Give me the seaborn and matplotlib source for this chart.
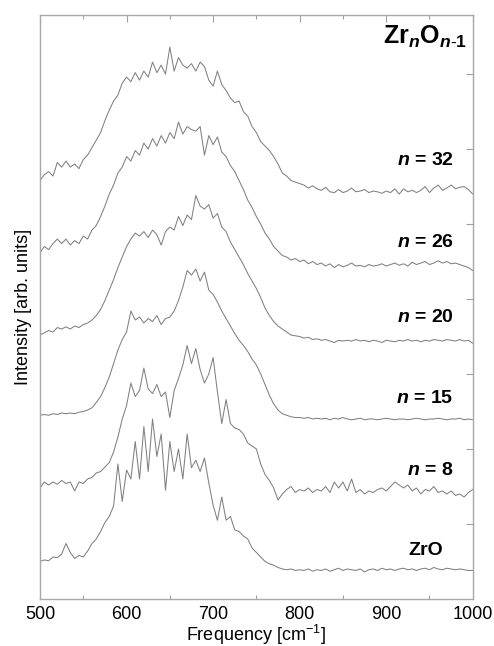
import numpy as np
import pandas as pd
import matplotlib
matplotlib.use("Agg")
import matplotlib.pyplot as plt
from matplotlib.ticker import MultipleLocator
import seaborn as sns

# ---- data (intensities with vertical offsets, 5 cm^-1 steps) ----
n32 = [5.58, 5.66, 5.70, 5.64, 5.82, 5.76, 5.84, 5.76, 5.80, 5.74, 5.86, 5.92, 6.02, 6.12, 6.22, 6.38, 6.52, 6.64, 6.72, 6.88,
       6.96, 6.90, 7.02, 6.92, 7.04, 6.96, 7.16, 7.02, 7.12, 7.00, 7.36, 7.04, 7.22, 7.12, 7.08, 7.14, 7.04, 7.16, 7.10, 6.92,
       6.84, 7.04, 6.86, 6.78, 6.68, 6.62, 6.64, 6.50, 6.44, 6.30, 6.22, 6.10, 6.04, 5.98, 5.90, 5.80, 5.68, 5.64, 5.58, 5.56,
       5.54, 5.52, 5.48, 5.51, 5.47, 5.45, 5.49, 5.43, 5.42, 5.46, 5.42, 5.44, 5.48, 5.43, 5.44, 5.46, 5.42, 5.44, 5.43, 5.41,
       5.44, 5.42, 5.47, 5.40, 5.47, 5.43, 5.45, 5.42, 5.45, 5.50, 5.42, 5.48, 5.52, 5.45, 5.48, 5.52, 5.47, 5.49, 5.50, 5.46,
       5.40]
n26 = [4.62, 4.70, 4.66, 4.74, 4.80, 4.74, 4.80, 4.72, 4.78, 4.74, 4.84, 4.80, 4.92, 4.98, 5.10, 5.24, 5.40, 5.52, 5.68, 5.76,
       5.90, 5.84, 5.98, 5.92, 6.08, 6.00, 6.14, 6.04, 6.18, 6.08, 6.22, 6.14, 6.36, 6.20, 6.30, 6.26, 6.24, 6.30, 5.92, 6.18,
       6.06, 6.16, 5.96, 5.90, 5.78, 5.70, 5.58, 5.46, 5.32, 5.22, 5.10, 5.00, 4.88, 4.80, 4.70, 4.64, 4.58, 4.56, 4.52, 4.54,
       4.50, 4.52, 4.47, 4.50, 4.46, 4.48, 4.44, 4.47, 4.42, 4.46, 4.43, 4.45, 4.48, 4.44, 4.45, 4.43, 4.46, 4.44, 4.45, 4.47,
       4.44, 4.46, 4.48, 4.45, 4.47, 4.44, 4.49, 4.46, 4.48, 4.50, 4.46, 4.48, 4.51, 4.48, 4.50, 4.47, 4.48, 4.46, 4.44, 4.42,
       4.38]
n20 = [3.52, 3.55, 3.58, 3.56, 3.62, 3.60, 3.63, 3.60, 3.64, 3.62, 3.66, 3.68, 3.72, 3.78, 3.86, 3.98, 4.12, 4.26, 4.42, 4.56,
       4.70, 4.80, 4.88, 4.84, 4.90, 4.82, 4.92, 4.86, 4.72, 4.90, 4.96, 4.92, 5.10, 4.98, 5.12, 5.06, 5.38, 5.24, 5.20, 5.26,
       5.08, 5.14, 4.96, 4.90, 4.76, 4.66, 4.56, 4.46, 4.34, 4.24, 4.14, 4.02, 3.88, 3.78, 3.70, 3.64, 3.60, 3.56, 3.52, 3.51,
       3.50, 3.48, 3.49, 3.46, 3.47, 3.45, 3.46, 3.44, 3.42, 3.45, 3.44, 3.45, 3.44, 3.46, 3.44, 3.45, 3.43, 3.45, 3.44, 3.42,
       3.45, 3.44, 3.43, 3.45, 3.44, 3.46, 3.44, 3.45, 3.43, 3.45, 3.44, 3.46, 3.45, 3.44, 3.46, 3.45, 3.44, 3.46, 3.44, 3.45,
       3.41]
n15 = [2.45, 2.46, 2.45, 2.47, 2.46, 2.48, 2.47, 2.48, 2.47, 2.49, 2.50, 2.52, 2.55, 2.62, 2.70, 2.82, 2.96, 3.14, 3.32, 3.46,
       3.56, 3.84, 3.72, 3.76, 3.68, 3.74, 3.70, 3.78, 3.66, 3.74, 3.76, 3.84, 3.98, 4.16, 4.38, 4.32, 4.40, 4.24, 4.36, 4.12,
       4.06, 3.96, 3.84, 3.74, 3.64, 3.54, 3.45, 3.38, 3.30, 3.20, 3.12, 3.00, 2.86, 2.72, 2.60, 2.52, 2.47, 2.45, 2.43, 2.42,
       2.42, 2.41, 2.42, 2.40, 2.41, 2.40, 2.41, 2.39, 2.41, 2.40, 2.42, 2.40, 2.39, 2.40, 2.41, 2.39, 2.40, 2.40, 2.39, 2.40,
       2.41, 2.40, 2.39, 2.40, 2.40, 2.39, 2.40, 2.41, 2.40, 2.39, 2.40, 2.40, 2.41, 2.40, 2.39, 2.40, 2.40, 2.41, 2.39, 2.40,
       2.39]
n8 = [1.48, 1.56, 1.52, 1.56, 1.53, 1.58, 1.54, 1.56, 1.44, 1.56, 1.54, 1.60, 1.62, 1.68, 1.70, 1.76, 1.82, 1.96, 2.16, 2.40,
      2.58, 2.88, 2.70, 2.78, 3.08, 2.80, 2.74, 2.86, 2.70, 2.76, 2.42, 2.78, 2.94, 3.12, 3.38, 3.14, 3.34, 3.06, 2.88, 3.00,
      3.22, 2.76, 2.34, 2.66, 2.34, 2.28, 2.26, 2.20, 2.08, 2.04, 2.00, 1.80, 1.66, 1.58, 1.48, 1.32, 1.40, 1.46, 1.50, 1.42,
      1.46, 1.44, 1.48, 1.42, 1.46, 1.44, 1.50, 1.42, 1.56, 1.48, 1.56, 1.44, 1.60, 1.42, 1.46, 1.40, 1.44, 1.42, 1.46, 1.48,
      1.44, 1.50, 1.56, 1.52, 1.48, 1.52, 1.44, 1.48, 1.40, 1.46, 1.44, 1.50, 1.42, 1.44, 1.40, 1.44, 1.38, 1.40, 1.36, 1.42,
      1.46]
zro = [0.50, 0.52, 0.51, 0.56, 0.55, 0.60, 0.74, 0.62, 0.54, 0.58, 0.56, 0.64, 0.74, 0.80, 0.90, 1.02, 1.10, 1.24, 1.80, 1.30,
       1.72, 1.60, 2.10, 1.60, 2.30, 1.70, 2.40, 1.90, 2.20, 1.45, 2.10, 1.70, 2.00, 1.60, 2.20, 1.75, 1.85, 1.70, 1.88, 1.55,
       1.25, 1.05, 1.36, 1.05, 1.10, 0.92, 0.90, 0.84, 0.80, 0.68, 0.62, 0.56, 0.50, 0.47, 0.45, 0.42, 0.40, 0.39, 0.40, 0.38,
       0.39, 0.38, 0.40, 0.37, 0.39, 0.38, 0.40, 0.37, 0.39, 0.41, 0.38, 0.40, 0.39, 0.38, 0.40, 0.36, 0.39, 0.40, 0.38, 0.41,
       0.39, 0.40, 0.38, 0.40, 0.41, 0.39, 0.40, 0.38, 0.40, 0.41, 0.39, 0.42, 0.40, 0.39, 0.41, 0.40, 0.39, 0.40, 0.39, 0.38,
       0.38]

series = {"n = 32": n32, "n = 26": n26, "n = 20": n20, "n = 15": n15, "n = 8": n8, "ZrO": zro}
label_y = [5.85, 4.76, 3.75, 2.68, 1.71, 0.65]
x_ticks = [500, 600, 700, 800, 900, 1000]

rows = []
for name, vals in series.items():
    xs = np.linspace(500, 1000, len(vals))
    for xv, yv in zip(xs, vals):
        rows.append({"freq": xv, "inten": yv, "cluster": name})
df = pd.DataFrame(rows)

sns.set_style("white")
plt.rcParams["font.family"] = ["Liberation Sans", "DejaVu Sans"]
plt.rcParams["text.color"] = "black"
plt.rcParams["axes.labelcolor"] = "black"
plt.rcParams["xtick.labelcolor"] = "black"
plt.rcParams["mathtext.fontset"] = "custom"
plt.rcParams["mathtext.rm"] = "Liberation Sans"
plt.rcParams["mathtext.it"] = "Liberation Sans:italic:bold"
plt.rcParams["mathtext.bf"] = "Liberation Sans:bold"

fig = plt.figure(figsize=(4.94, 6.46), dpi=100)
ax = fig.add_axes([0.081, 0.0728, 0.876, 0.9042])

for name in series:
    sns.lineplot(data=df[df["cluster"] == name], x="freq", y="inten", ax=ax,
                 color="#808080", linewidth=0.75, estimator=None, sort=True)

ax.set_xlim(500, 1000)
ax.set_ylim(0, 7.79)
ax.set_xticks(x_ticks)
ax.set_xticklabels([str(t) for t in x_ticks])
ax.xaxis.set_minor_locator(MultipleLocator(50))
ax.set_yticks([1, 2, 3, 4, 5, 6, 7])
ax.tick_params(axis="both", which="major", direction="in", top=True, right=True,
               length=5, width=0.8, color="#a0a0a0", labelsize=13, pad=5, labelcolor="black")
ax.tick_params(axis="y", labelleft=False)
ax.tick_params(axis="x", which="minor", direction="in", top=True, bottom=True,
               length=3, width=0.8, color="#a0a0a0")
for s in ax.spines.values():
    s.set_color("#a8a8a8")
    s.set_linewidth(1.0)

ax.set_xlabel("Frequency [cm$^{-1}$]", fontsize=13, labelpad=0, color="black")
ax.set_ylabel("Intensity [arb. units]", fontsize=13, labelpad=6, color="black")

for (name, ly) in zip(series.keys(), label_y):
    if name == "ZrO":
        ax.text(966, ly, "ZrO", ha="right", va="center", fontsize=14, fontweight="bold", color="black")
    else:
        txt = "$n$" + name[1:]
        ax.text(978, ly, txt, ha="right", va="center", fontsize=14, fontweight="bold", color="black")

ax.text(993, 7.41, r"$\mathbf{Zr}_{n}\mathbf{O}_{n\mathbf{\text{-}1}}$", ha="right", va="baseline",
        fontsize=18, fontweight="bold", color="black")

fig.savefig("out.png", dpi=100)
